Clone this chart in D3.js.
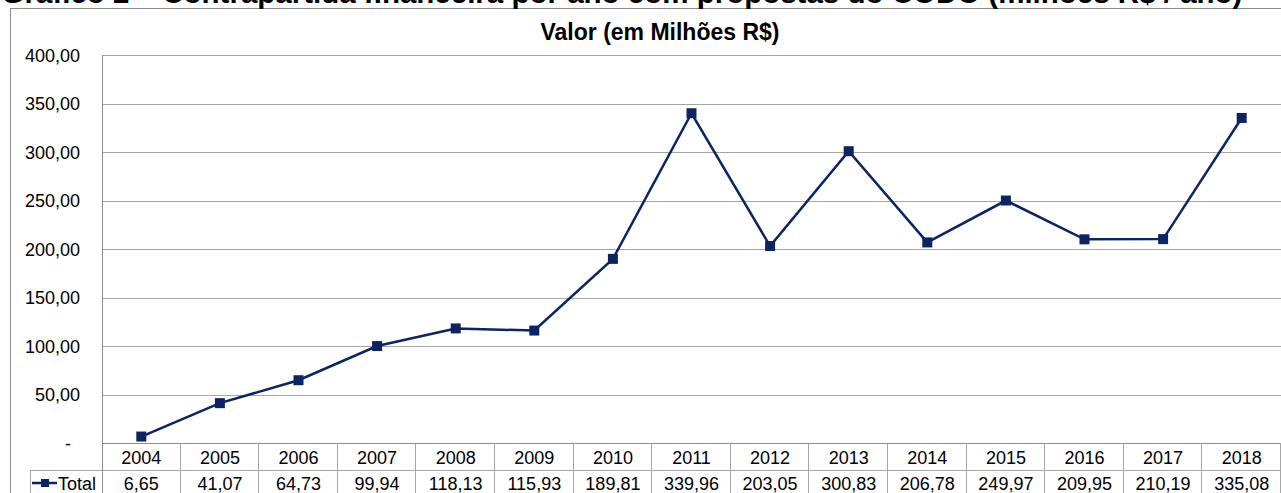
<!DOCTYPE html>
<html>
<head>
<meta charset="utf-8">
<script src="https://cdn.jsdelivr.net/npm/d3@7"></script>
<style>
  body { margin: 0; background: #fff; overflow: hidden; }
  text { font-family: "Liberation Sans", Arial, sans-serif; }
</style>
</head>
<body>
<div id="chart"></div>
<script>
// dados do gráfico
const anos = ["2004","2005","2006","2007","2008","2009","2010","2011","2012","2013","2014","2015","2016","2017","2018"];
const valores = [6.65, 41.07, 64.73, 99.94, 118.13, 115.93, 189.81, 339.96, 203.05, 300.83, 206.78, 249.97, 209.95, 210.19, 335.08];
const yTicks = [0, 50, 100, 150, 200, 250, 300, 350, 400];
const serieNome = "Total";
const titulo = "Gráfico 2 – Contrapartida financeira por ano com propostas do CODO (milhões R$ / ano)";
const subtitulo = "Valor (em Milhões R$)";

const width = 1281, height = 493;
const plotL = 102, plotR = 1281, plotT = 55, plotB = 443;
const lineColor = "#0c2463";
const gridColor = "#a6a6a6";

const fmt = v => v === 0 ? "-" : v.toFixed(2).replace(".", ",");

const svg = d3.select("#chart").append("svg")
  .attr("width", width)
  .attr("height", height)
  .style("display", "block");

const x = d3.scaleBand().domain(anos).range([plotL, plotR]).padding(0);
const y = d3.scaleLinear().domain([0, 400]).range([plotB, plotT]);

// moldura externa
svg.append("rect")
  .attr("x", 10.5).attr("y", 8.5)
  .attr("width", 1290).attr("height", 500)
  .attr("fill", "none").attr("stroke", "#8c8c8c");

// título (cortado no topo, como no original)
svg.append("text")
  .attr("x", 622).attr("y", 3)
  .attr("text-anchor", "middle")
  .attr("font-size", 29.5).attr("font-weight", "bold")
  .text(titulo);

svg.append("text")
  .attr("x", 660).attr("y", 40)
  .attr("text-anchor", "middle")
  .attr("font-size", 23).attr("font-weight", "bold")
  .text(subtitulo);

// grades
svg.append("g").selectAll("line")
  .data(yTicks.filter(d => d > 0))
  .enter().append("line")
  .attr("x1", plotL).attr("x2", plotR)
  .attr("y1", d => Math.round(y(d)) + 0.5).attr("y2", d => Math.round(y(d)) + 0.5)
  .attr("stroke", gridColor);

// eixo y
svg.append("g").selectAll("text")
  .data(yTicks)
  .enter().append("text")
  .attr("x", d => d === 0 ? 68 : 80)
  .attr("y", d => y(d) + 6.5)
  .attr("text-anchor", d => d === 0 ? "middle" : "end")
  .attr("font-size", 18)
  .text(fmt);

// tabela de dados
const rowH = 27;
const tab = svg.append("g").attr("stroke", gridColor).attr("shape-rendering", "crispEdges");
tab.append("line").attr("x1", plotL).attr("x2", plotR).attr("y1", plotB + 0.5).attr("y2", plotB + 0.5).attr("stroke", "#8c8c8c");
tab.append("line").attr("x1", 30).attr("x2", plotR).attr("y1", plotB + rowH + 0.5).attr("y2", plotB + rowH + 0.5);
tab.append("line").attr("x1", 30.5).attr("x2", 30.5).attr("y1", plotB + rowH).attr("y2", height);
tab.append("line").attr("x1", plotL + 0.5).attr("x2", plotL + 0.5).attr("y1", plotT).attr("y2", height).attr("stroke", "#8c8c8c");
tab.selectAll(".col")
  .data(anos)
  .enter().append("line")
  .attr("x1", d => Math.round(x(d) + x.bandwidth()) - 0.5)
  .attr("x2", d => Math.round(x(d) + x.bandwidth()) - 0.5)
  .attr("y1", plotB).attr("y2", height);

svg.append("g").selectAll("text")
  .data(anos)
  .enter().append("text")
  .attr("x", d => x(d) + x.bandwidth() / 2)
  .attr("y", plotB + 20.5)
  .attr("text-anchor", "middle")
  .attr("font-size", 18)
  .text(d => d);

svg.append("g").selectAll("text")
  .data(valores)
  .enter().append("text")
  .attr("x", (d, i) => x(anos[i]) + x.bandwidth() / 2)
  .attr("y", plotB + rowH + 19.5)
  .attr("text-anchor", "middle")
  .attr("font-size", 18)
  .text(fmt);

// legenda
const ly = plotB + rowH + 13;
svg.append("line").attr("x1", 32).attr("x2", 57).attr("y1", ly).attr("y2", ly)
  .attr("stroke", lineColor).attr("stroke-width", 2.5);
svg.append("rect").attr("x", 41).attr("y", ly - 4).attr("width", 8).attr("height", 8).attr("fill", lineColor);
svg.append("text").attr("x", 58).attr("y", plotB + rowH + 19.5).attr("font-size", 18).text(serieNome);

// linha da série
const line = d3.line()
  .x((d, i) => x(anos[i]) + x.bandwidth() / 2)
  .y(d => y(d));

svg.append("path")
  .datum(valores)
  .attr("d", line)
  .attr("fill", "none")
  .attr("stroke", lineColor)
  .attr("stroke-width", 2.5);

svg.append("g").selectAll("rect")
  .data(valores)
  .enter().append("rect")
  .attr("x", (d, i) => x(anos[i]) + x.bandwidth() / 2 - 5)
  .attr("y", d => y(d) - 5)
  .attr("width", 10).attr("height", 10)
  .attr("fill", lineColor);
</script>
</body>
</html>
